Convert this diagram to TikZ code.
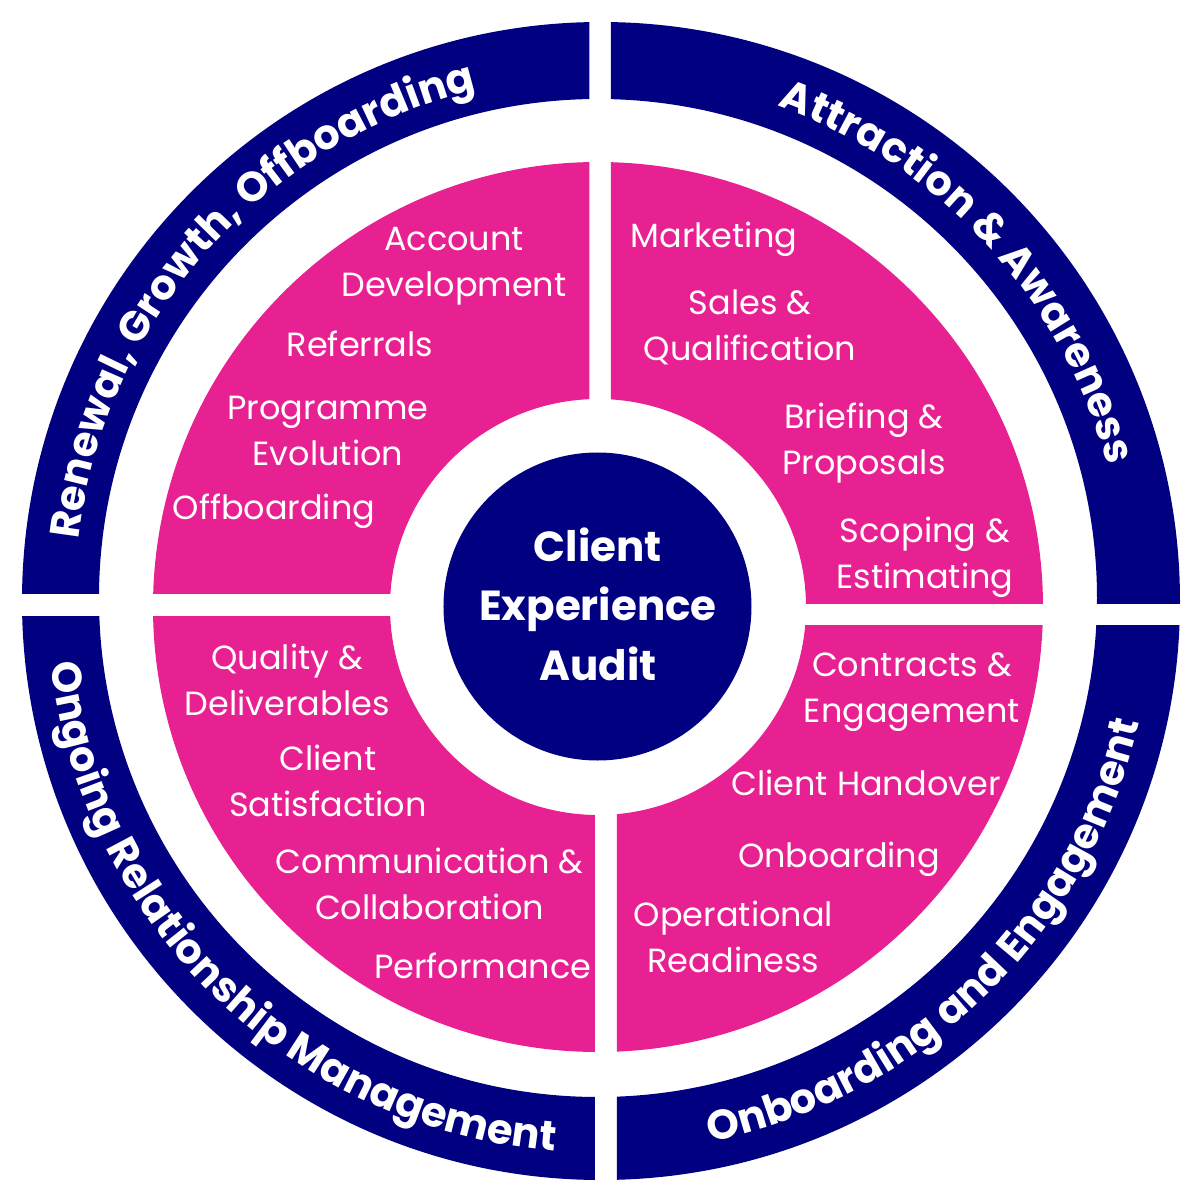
\documentclass[tikz,border=0pt]{standalone}
\usepackage{fontspec}
\setmainfont{Poppins}
\usetikzlibrary{decorations.text}
\definecolor{cxnavy}{RGB}{0,0,128}
\definecolor{cxpink}{RGB}{231,33,145}
\newcommand\ringfont{\bfseries\fontsize{41.5bp}{41.5bp}\selectfont}
\begin{document}
\begin{tikzpicture}[x=1bp,y=1bp,
  lbl/.style={text=white, align=center, inner sep=0pt,
    font=\fontsize{33.5bp}{46bp}\selectfont, text height=23.5bp, text depth=8.4bp},
  hubtext/.style={text=white, align=center, inner sep=0pt,
    font=\bfseries\fontsize{42bp}{59.5bp}\selectfont, text height=29.4bp, text depth=10.5bp},
  ringtext/.style={decorate, decoration={text along path, text={|\ringfont|#1},
    text align=center, text color=white}}]
\useasboundingbox (-600,-600) rectangle (600,600);
% quadrants
\begin{scope}
  \clip (-10.5,7) rectangle (-650,650);
  \fill[cxpink,even odd rule] (-2,-7) circle[radius=445] (-2,-7) circle[radius=208];
  \fill[cxnavy,even odd rule] (1,-1) circle[radius=579] (-2,2) circle[radius=499];
\end{scope}
\begin{scope}
  \clip (11,-3) rectangle (650,650);
  \fill[cxpink,even odd rule] (-2,-7) circle[radius=445] (-2,-7) circle[radius=208];
  \fill[cxnavy,even odd rule] (1,-1) circle[radius=579] (-2,2) circle[radius=499];
\end{scope}
\begin{scope}
  \clip (17,-25) rectangle (650,-650);
  \fill[cxpink,even odd rule] (-2,-7) circle[radius=445] (-2,-7) circle[radius=208];
  \fill[cxnavy,even odd rule] (1,-1) circle[radius=579] (-2,2) circle[radius=499];
\end{scope}
\begin{scope}
  \clip (-5,-16) rectangle (-650,-650);
  \fill[cxpink,even odd rule] (-2,-7) circle[radius=445] (-2,-7) circle[radius=208];
  \fill[cxnavy,even odd rule] (1,-1) circle[radius=579] (-2,2) circle[radius=499];
\end{scope}
% ring labels
\path[ringtext={Renewal, Growth, Offboarding}] (188.5:525) arc[start angle=188.5, end angle=88.5, radius=525];
\path[ringtext={Attraction {\&} Awareness}] (92.5:525) arc[start angle=92.5, end angle=-7.5, radius=525];
\path[ringtext={Onboarding and Engagement}] (-95.6:553) arc[start angle=-95.6, end angle=4.4, radius=553];
\path[ringtext={Ongoing Relationship Management}] (176:553) arc[start angle=176, end angle=276, radius=553];
% centre
\node[circle, fill=cxnavy, minimum size=308bp, inner sep=0pt] (hub) at (-2.5,-6.5) {};
\node[hubtext] (hubtxt) at (-2,-71) {Client\\Experience\\Audit};
% pink labels
\node[lbl] (acct) at (-146,311) {Account\\Development};
\node[lbl] (refs) at (-240,251) {Referrals};
\node[lbl] (prog) at (-272,142.3) {Programme\\Evolution};
\node[lbl] (offb) at (-326,88) {Offboarding};
\node[lbl] (mkt) at (114,360) {Marketing};
\node[lbl] (sales) at (150,247) {Sales \&\\Qualification};
\node[lbl] (brief) at (264,133) {Briefing \&\\Proposals};
\node[lbl] (scoping) at (325,19) {Scoping \&\\Estimating};
\node[lbl] (contr) at (312,-115) {Contracts \&\\Engagement};
\node[lbl] (hand) at (266,-187.5) {Client Handover};
\node[lbl] (onb) at (239,-259.6) {Onboarding};
\node[lbl] (oper) at (133.5,-364.7) {Operational\\Readiness};
\node[lbl] (qual) at (-312.7,-108) {Quality \&\\Deliverables};
\node[lbl] (sat) at (-272,-209) {Client\\Satisfaction};
\node[lbl] (comm) at (-170.5,-311.7) {Communication \&\\Collaboration};
\node[lbl] (perf) at (-117.3,-371.2) {Performance};
\end{tikzpicture}
\end{document}
